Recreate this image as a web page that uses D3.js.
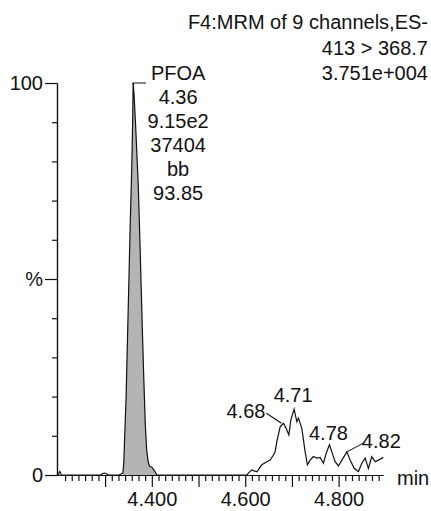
<!DOCTYPE html>
<html>
<head>
<meta charset="utf-8" />
<title>PFOA MRM chromatogram</title>
<script src="https://cdn.jsdelivr.net/npm/d3@7"></script>
<style>
  body { margin: 0; background: #fff; }
  svg text { font-family: "Liberation Sans", Arial, sans-serif; font-size: 20px; fill: #111; }
  .axis path, .axis line { stroke: #111; stroke-width: 1.2; }
</style>
</head>
<body>
<script>
// retention time (min) and relative intensity (%)
var times = [4.197, 4.200, 4.2015, 4.203, 4.2045, 4.206, 4.290, 4.294, 4.298, 4.302,
             4.306, 4.330, 4.338, 4.340, 4.342, 4.345, 4.348, 4.351, 4.354, 4.357,
             4.359, 4.360, 4.362, 4.365, 4.368, 4.371, 4.374, 4.377, 4.380, 4.383,
             4.386, 4.389, 4.392, 4.395, 4.400, 4.405, 4.411, 4.500, 4.603, 4.614,
             4.625, 4.6355, 4.6463, 4.6533, 4.6604, 4.664, 4.6677, 4.6747, 4.6818, 4.6876,
             4.6934, 4.6976, 4.7047, 4.7105, 4.714, 4.7212, 4.7283, 4.7332, 4.739, 4.746,
             4.7533, 4.7604, 4.7675, 4.7732, 4.7803, 4.7854, 4.7925, 4.7996, 4.8069, 4.8176,
             4.8246, 4.8332, 4.8424, 4.8497, 4.8567, 4.8638, 4.871, 4.8782, 4.8852, 4.8955];
var intensity = [0, 0, 0.6, 0.9, 0.6, 0, 0, 0.3, 0.5, 0.4,
                 0, 0, 0.5, 3, 10, 20, 35, 50, 65, 78,
                 90, 100, 97, 90, 82, 74, 62, 49, 36, 24,
                 13, 6.5, 3.5, 2.2, 2.0, 1.2, 0, 0, 0, 1.3,
                 0.8, 2.6, 3.4, 3.8, 5.1, 5.9, 8.5, 12.3, 13.2, 11.9,
                 10.2, 14.0, 16.8, 13.6, 14.5, 11.9, 5.9, 2.6, 3.8, 4.7,
                 4.3, 4.5, 3.0, 5.5, 7.7, 5.9, 3.4, 2.3, 3.8, 5.9,
                 3.8, 1.7, 0.9, 3.0, 4.3, 1.7, 4.7, 3.4, 3.8, 4.5];

var titleLines = ["F4:MRM of 9 channels,ES-", "413 > 368.7", "3.751e+004"];
var mainPeakTime = 4.36;
var mainPeakLines = ["PFOA", "4.36", "9.15e2", "37404", "bb", "93.85"];
var integStart = 4.336, integEnd = 4.412;
var minorPeakTimes = [4.6818, 4.7047, 4.7803, 4.8176];
var minorPeakLabels = ["4.68", "4.71", "4.78", "4.82"];
var xMajorTicks = [4.3, 4.4, 4.5, 4.6, 4.7, 4.8];
var xLabelTicks = [4.4, 4.6, 4.8];
var yMajorTicks = [0, 50, 100];

var width = 431, height = 511;
var x = d3.scaleLinear().domain([4.197, 4.895]).range([57, 383]);
var y = d3.scaleLinear().domain([0, 100]).range([475, 83]);

var data = times.map(function(t, i) { return {t: t, v: intensity[i]}; });

var svg = d3.select("body").append("svg")
    .attr("width", width)
    .attr("height", height);

// integrated peak fill
var area = d3.area()
    .x(function(d) { return x(d.t); })
    .y0(y(0))
    .y1(function(d) { return y(d.v); });
svg.append("path")
    .datum(data.filter(function(d) { return d.t >= integStart && d.t <= integEnd; }))
    .attr("d", area)
    .attr("fill", "#b4b4b4");

// trace
var line = d3.line()
    .x(function(d) { return x(d.t); })
    .y(function(d) { return y(d.v); });
svg.append("path")
    .datum(data)
    .attr("d", line)
    .attr("fill", "none")
    .attr("stroke", "#111")
    .attr("stroke-width", 1.2);

// x minor ticks, 7 per 0.1 min
var xMinor = [];
for (var k = 0; k < 49; k++) {
    var t = 4.2 + k * 0.1 / 7;
    if (k % 7 !== 0 && x(t) > 60 && t < 4.895) xMinor.push(t);
}
svg.append("g")
    .attr("class", "axis")
    .attr("transform", "translate(0," + y(0) + ")")
    .call(d3.axisBottom(x).tickValues(xMinor).tickSize(6).tickSizeOuter(0).tickFormat(""));
svg.append("g")
    .attr("class", "axis")
    .attr("transform", "translate(0," + y(0) + ")")
    .call(d3.axisBottom(x).tickValues(xMajorTicks).tickSize(12).tickSizeOuter(0).tickPadding(5)
        .tickFormat(function(d) {
            return xLabelTicks.some(function(v) { return Math.abs(v - d) < 1e-9; }) ? d3.format(".3f")(d) : "";
        }))
    .selectAll("text").style("font-size", "20px").attr("fill", "#111");

// y axis
var yMinor = d3.range(10, 100, 10).filter(function(v) { return v !== 50; });
svg.append("g")
    .attr("class", "axis")
    .attr("transform", "translate(" + x.range()[0] + ",0)")
    .call(d3.axisLeft(y).tickValues(yMinor).tickSize(5).tickSizeOuter(0).tickFormat(""));
svg.append("g")
    .attr("class", "axis")
    .attr("transform", "translate(" + x.range()[0] + ",0)")
    .call(d3.axisLeft(y).tickValues(yMajorTicks).tickSize(12).tickSizeOuter(0).tickPadding(2)
        .tickFormat(function(d) { return d === 50 ? "%" : d; }))
    .selectAll("text").style("font-size", "20px").attr("fill", "#111");

svg.append("text")
    .attr("x", x.range()[1] + 14)
    .attr("y", y(0) + 10)
    .text("min");

// header
svg.selectAll("text.title")
    .data(titleLines)
  .enter().append("text")
    .attr("class", "title")
    .attr("x", 428)
    .attr("y", function(d, i) { return 29 + i * 25.5; })
    .attr("text-anchor", "end")
    .text(function(d) { return d; });

// main peak annotation
var px = x(mainPeakTime), py = y(100);
svg.append("path")
    .attr("d", "M" + px + "," + (py + 2) + "V" + py + "H" + (px + 13))
    .attr("fill", "none")
    .attr("stroke", "#111")
    .attr("stroke-width", 1.2);
svg.selectAll("text.peak")
    .data(mainPeakLines)
  .enter().append("text")
    .attr("class", "peak")
    .attr("x", px + 45)
    .attr("y", function(d, i) { return py - 3 + i * 24; })
    .attr("text-anchor", "middle")
    .text(function(d) { return d; });

// minor peak annotations
var peakVal = function(t) {
    var i = times.indexOf(t);
    return intensity[i];
};
var pts = minorPeakTimes.map(function(t) { return [x(t), y(peakVal(t))]; });

// 4.68 with leader to the left
svg.append("line")
    .attr("x1", pts[0][0] - 2).attr("y1", pts[0][1])
    .attr("x2", pts[0][0] - 17).attr("y2", pts[0][1] - 10)
    .attr("stroke", "#111").attr("stroke-width", 1.1);
svg.append("text")
    .attr("x", pts[0][0] - 18).attr("y", pts[0][1] - 5)
    .attr("text-anchor", "end")
    .text(minorPeakLabels[0]);

// 4.71 and 4.78 sit right above their peaks
svg.append("text")
    .attr("x", pts[1][0] - 1).attr("y", pts[1][1] - 7)
    .attr("text-anchor", "middle")
    .text(minorPeakLabels[1]);
svg.append("text")
    .attr("x", pts[2][0] - 1).attr("y", pts[2][1] - 5)
    .attr("text-anchor", "middle")
    .text(minorPeakLabels[2]);

// 4.82 with leader to the right
svg.append("line")
    .attr("x1", pts[3][0]).attr("y1", pts[3][1])
    .attr("x2", pts[3][0] + 17).attr("y2", pts[3][1] - 9)
    .attr("stroke", "#111").attr("stroke-width", 1.1);
svg.append("text")
    .attr("x", pts[3][0] + 15).attr("y", pts[3][1] - 4)
    .text(minorPeakLabels[3]);
</script>
</body>
</html>
